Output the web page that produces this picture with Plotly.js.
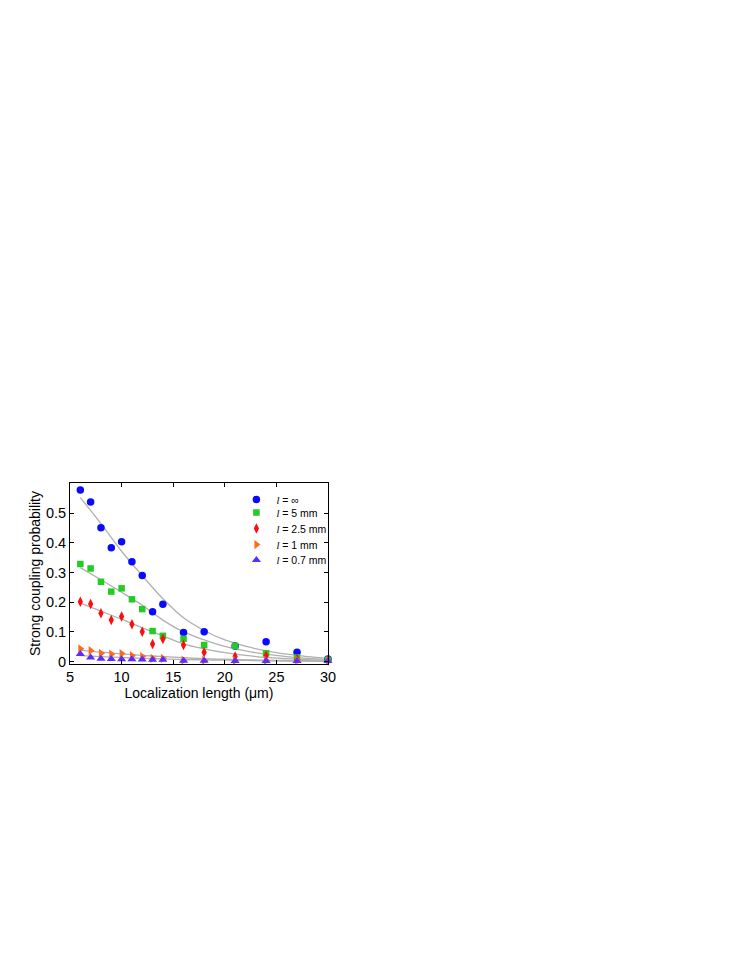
<!DOCTYPE html>
<html>
<head>
<meta charset="utf-8">
<script src="https://cdn.plot.ly/plotly-3.0.1.min.js"></script>
<style>
html,body{margin:0;padding:0;background:#fff;}
#chart{width:747px;height:967px;}
</style>
</head>
<body>
<div id="chart"></div>
<script>
// Measured localization lengths (µm)
const xData = [6, 7, 8, 9, 10, 11, 12, 13, 14, 16, 18, 21, 24, 27, 30];

// Strong coupling probability for each absorption length
const pInf   = [0.578, 0.538, 0.451, 0.384, 0.404, 0.337, 0.290, 0.168, 0.193, 0.098, 0.101, 0.053, 0.067, 0.032, 0.009];
const p5mm   = [0.329, 0.314, 0.269, 0.236, 0.247, 0.210, 0.177, 0.103, 0.087, 0.077, 0.056, 0.053, 0.028, 0.014, 0.006];
const p25mm  = [0.202, 0.194, 0.163, 0.140, 0.152, 0.126, 0.101, 0.059, 0.076, 0.056, 0.032, 0.017, 0.020, 0.009, 0.004];
const p1mm   = [0.043, 0.037, 0.028, 0.025, 0.027, 0.020, 0.017, 0.011, 0.011, 0.005, 0.004, 0.004, 0.004, 0.006, 0.003];
const p07mm  = [0.026, 0.014, 0.010, 0.009, 0.008, 0.008, 0.007, 0.006, 0.006, 0.003, 0.003, 0.002, 0.002, 0.002, 0.002];

// Fitted curves
const fitX     = [6, 8, 10, 12, 14, 16, 18, 20, 22, 24, 26, 28, 30];
const fitInf   = [0.553, 0.465, 0.372, 0.290, 0.212, 0.148, 0.105, 0.073, 0.052, 0.036, 0.025, 0.017, 0.011];
const fit5mm   = [0.317, 0.276, 0.234, 0.190, 0.140, 0.100, 0.073, 0.051, 0.036, 0.025, 0.017, 0.011, 0.007];
const fit25mm  = [0.197, 0.170, 0.143, 0.114, 0.087, 0.060, 0.043, 0.030, 0.021, 0.014, 0.010, 0.007, 0.005];
const fit1mm   = [0.039, 0.032, 0.026, 0.021, 0.017, 0.013, 0.010, 0.008, 0.006, 0.005, 0.004, 0.003, 0.002];
const fit07mm  = [0.020, 0.017, 0.014, 0.011, 0.009, 0.007, 0.006, 0.005, 0.004, 0.003, 0.002, 0.002, 0.001];

const xTicks = [5, 10, 15, 20, 25, 30];
const yTicks = [0, 0.1, 0.2, 0.3, 0.4, 0.5];
const yTickText = ['0', '0.1', '0.2', '0.3', '0.4', '0.5'];

const L = '<span style="font-family:\'Liberation Serif\';font-style:italic">l</span>';
const names = [L + ' = ∞', L + ' = 5 mm', L + ' = 2.5 mm', L + ' = 1 mm', L + ' = 0.7 mm'];
const series = [pInf, p5mm, p25mm, p1mm, p07mm];
const fits = [fitInf, fit5mm, fit25mm, fit1mm, fit07mm];
const colors = ['#0a0aff', '#22cc22', '#ff0d0d', '#ff6a1f', '#5a2cff'];
const symbols = ['circle', 'square', 'diamond-tall', 'triangle-right', 'triangle-up'];
const sizes = [7.5, 6.5, 7.5, 8, 8];
const legendIds = ['legend', 'legend2', 'legend3', 'legend4', 'legend5'];
const legendY = [0.909, 0.837, 0.749, 0.660, 0.575];

const traces = [];
fits.forEach(f => {
  traces.push({
    x: fitX, y: f, mode: 'lines', type: 'scatter',
    line: {color: '#b0b0b0', width: 1.3, shape: 'spline', smoothing: 1},
    showlegend: false, hoverinfo: 'skip', cliponaxis: false
  });
});
series.forEach((s, i) => {
  traces.push({
    x: xData, y: s, mode: 'markers', type: 'scatter', name: names[i],
    legend: legendIds[i],
    marker: {color: colors[i], symbol: symbols[i], size: sizes[i], line: {width: 0}},
    cliponaxis: false
  });
});

const layout = {
  width: 747, height: 967,
  paper_bgcolor: '#fff', plot_bgcolor: '#fff',
  margin: {l: 70, r: 419, t: 483, b: 303, pad: 0},
  font: {family: 'Liberation Sans, Arial, sans-serif', size: 14, color: '#000'},
  showlegend: true,
  xaxis: {
    range: [5, 30], tickvals: xTicks, ticktext: xTicks.map(String),
    ticks: 'inside', ticklen: 4, tickwidth: 1, tickcolor: '#000',
    showline: true, linecolor: '#000', linewidth: 1, mirror: 'ticks',
    showgrid: false, zeroline: false,
    tickfont: {size: 14.5},
    title: {text: 'Localization length (μm)', font: {size: 14}, standoff: 0}
  },
  yaxis: {
    range: [-0.008, 0.602], tickvals: yTicks, ticktext: yTickText,
    ticks: 'inside', ticklen: 4, tickwidth: 1, tickcolor: '#000',
    showline: true, linecolor: '#000', linewidth: 1, mirror: 'ticks',
    showgrid: false, zeroline: false,
    tickfont: {size: 14.5},
    title: {text: 'Strong coupling probability', font: {size: 14}, standoff: 2}
  }
};
legendIds.forEach((id, i) => {
  layout[id] = {
    x: 0.645, y: legendY[i], xanchor: 'left', yanchor: 'middle',
    bgcolor: 'rgba(0,0,0,0)', borderwidth: 0,
    font: {size: 10.5, family: 'Liberation Sans, Arial, sans-serif'},
    itemwidth: 30
  };
});

Plotly.newPlot('chart', traces, layout, {displayModeBar: false, staticPlot: true});
</script>
</body>
</html>
